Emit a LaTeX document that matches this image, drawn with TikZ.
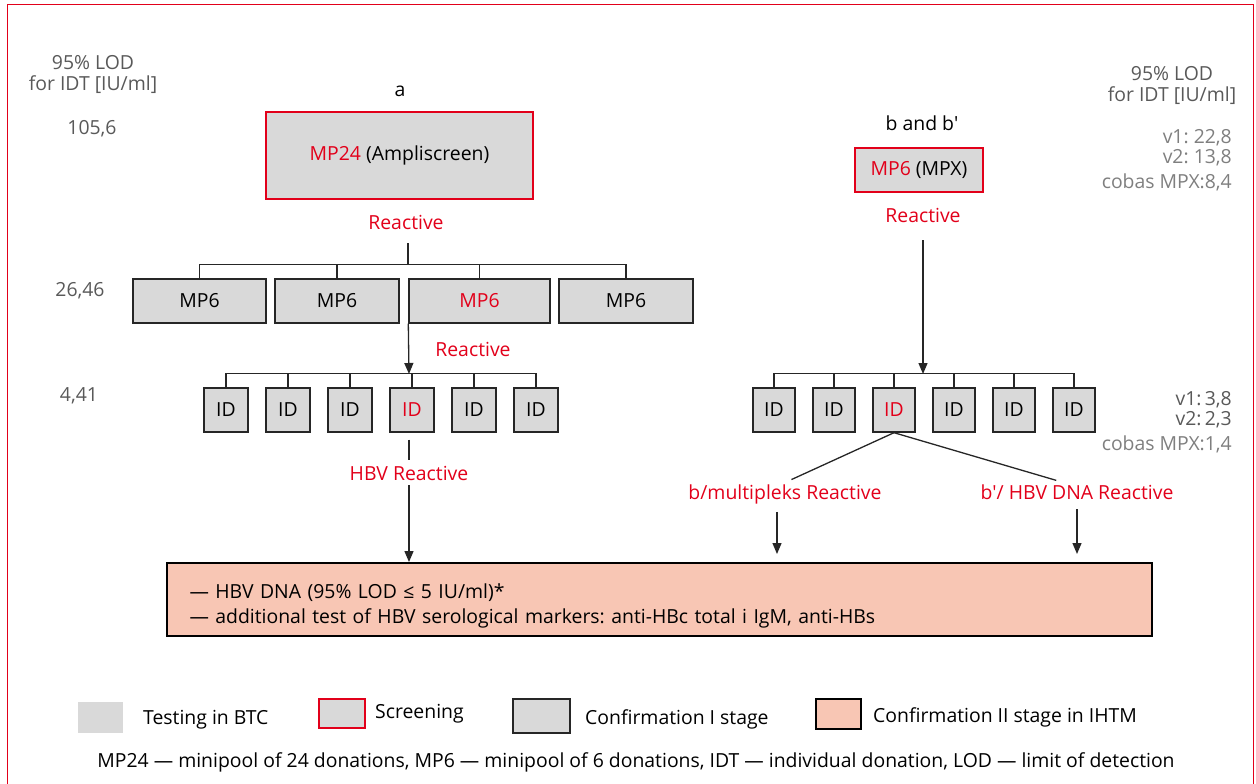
\documentclass[tikz,border=0pt]{standalone}
\usepackage{fontspec}
\setmainfont{Open Sans}
\usepackage{tikz}
\usetikzlibrary{arrows.meta}
\definecolor{signal}{HTML}{E2001A}
\definecolor{boxgrey}{HTML}{D9D9D9}
\definecolor{salmon}{HTML}{F8C6B4}
\definecolor{lodgrey}{HTML}{595959}
\definecolor{lodlight}{HTML}{7F7F7F}
\frenchspacing

\begin{document}
\begin{tikzpicture}[x=1pt, y=-1pt, >={Triangle[length=11pt,width=9pt]},
  font=\fontsize{19.4}{23}\selectfont,
  pool/.style={draw=black!85, line width=1.4pt, fill=boxgrey, inner sep=0pt, minimum height=44pt},
  screen/.style={draw=signal, line width=1.6pt, fill=boxgrey, inner sep=0pt},
  link/.style={line width=1.3pt, black!85},
  txt/.style={anchor=base, inner sep=2pt},
  hit/.style={txt, text=signal},
  lod/.style={txt, text=lodgrey}]
  \useasboundingbox (0,0) rectangle (1256,784);
  \draw[signal, line width=1.5pt] (7.5,790) -- (7.5,4.5) -- (1253.5,4.5) -- (1253.5,790);

  % Detection limits, left column
  \node[lod] (lodA1) at (93,70) {95\% LOD};
  \node[lod] (lodA2) at (93,91) {for IDT [IU/ml]};
  \node[lod] (lodMP24) at (92,134) {105,6};
  \node[lod] (lodMP6) at (80,296) {26,46};
  \node[lod] (lodID) at (79,401) {4,41};

  % Branch a
  \node[txt] (labA) at (400,96) {a};
  \node[screen, minimum width=267pt, minimum height=87pt] (mp24) at (399.5,155.5) {\textcolor{signal}{MP24} (Ampliscreen)};
  \node[hit] (reactA) at (406,229) {Reactive};

  \node[pool, minimum width=133pt] (mp1) at (199.5,301) {MP6};
  \node[pool, minimum width=124pt] (mp2) at (337,301) {MP6};
  \node[pool, minimum width=141pt, text=signal] (mp3) at (479.5,301) {MP6};
  \node[pool, minimum width=134pt] (mp4) at (626,301) {MP6};

  \coordinate (busA) at (408,265);
  \draw[link] (mp1.north) -- ++(0,-14) -| (mp4.north);
  \foreach \k in {2,3} \draw[link] (mp\k.north) -- ++(0,-14);
  \draw[link, shorten <=12pt] (busA |- reactA.south) -- (busA);

  \node[hit] (reactMP) at (473,356) {Reactive};
  \coordinate (busB) at (409,374);
  \draw[link, ->] (mp3.south west) -- (busB);

  \foreach \k/\c in {1/black,2/black,3/black,4/signal,5/black,6/black}
    \node[pool, minimum width=44pt, text=\c] (idA\k) at ({226+62*(\k-1)},410) {ID};
  \draw[link] (idA1.north) -- ++(0,-14) -| (idA6.north);
  \foreach \k in {2,...,5} \draw[link] (idA\k.north) -- ++(0,-14);

  \node[hit] (hbv) at (409,480) {HBV Reactive};
  \draw[link, shorten <=7pt, shorten >=4pt] (hbv.north |- idA4.south) -- (hbv.north);

  % Confirmation II
  \node[draw=black, line width=2pt, fill=salmon, minimum width=985pt, minimum height=73pt,
        inner xsep=23pt, inner ysep=0pt, text width=939pt, align=left,
        font=\fontsize{19.4}{25}\selectfont] (pink) at (659,599.5)
    {\rule{0pt}{27pt}— HBV DNA (95\% LOD ≤ 5 IU/ml)*\\— additional test of HBV serological markers: anti-HBc total i IgM, anti-HBs};
  \draw[link, ->, shorten <=3pt] (hbv.south) -- (hbv.south |- pink.north);

  % Branch b and b'
  \node[txt] (labB) at (922,130) {b and b\textquotesingle};
  \node[screen, minimum width=128pt, minimum height=44pt] (mpx) at (919,170) {\textcolor{signal}{MP6} (MPX)};
  \node[hit] (reactB) at (923,222) {Reactive};
  \coordinate (busC) at (923,374);
  \draw[link, ->, shorten <=16pt] (busC |- reactB.south) -- (busC);

  \foreach \k/\c in {1/black,2/black,3/signal,4/black,5/black,6/black}
    \node[pool, minimum width=42pt, text=\c] (idB\k) at ({774+60*(\k-1)},410) {ID};
  \draw[link] (idB1.north) -- ++(0,-14) -| (idB6.north);
  \foreach \k in {2,...,5} \draw[link] (idB\k.north) -- ++(0,-14);

  \node[hit] (multi) at (785,499) {b/multipleks Reactive};
  \node[hit] (dnaB) at (1077,499) {b\textquotesingle/ HBV DNA Reactive};
  \draw[link, shorten >=6pt] (idB3.south) -- ([xshift=1pt]multi.north);
  \draw[link, shorten >=6pt] (idB3.south) -- ([xshift=-15pt]dnaB.north);
  \draw[link, ->, shorten <=6pt, shorten >=8pt] ([xshift=-8pt]multi.south) -- ([xshift=-8pt]multi.south |- pink.north);
  \draw[link, ->, shorten <=8pt, shorten >=8pt] (dnaB.south) -- (dnaB.south |- pink.north);

  % Detection limits, right column
  \node[lod] (lodB1) at (1172,81) {95\% LOD};
  \node[lod] (lodB2) at (1172,102) {for IDT [IU/ml]};
  \node[lod, anchor=base east, text=lodlight] (lodMPX1) at (1234,143) {v1: 22,8};
  \node[lod, anchor=base east, text=lodlight] (lodMPX2) at (1234,163) {v2: 13,8};
  \node[lod, anchor=base east, text=lodlight] (lodMPX3) at (1234,188) {cobas MPX:8,4};
  \node[lod, anchor=base east] (lodIDB1) at (1234,405) {v1:\,3,8};
  \node[lod, anchor=base east] (lodIDB2) at (1234,425) {v2:\,2,3};
  \node[lod, anchor=base east, text=lodlight] (lodIDB3) at (1234,450) {cobas MPX:1,4};

  % Legend
  \node[fill=boxgrey, minimum width=45pt, minimum height=31pt, inner sep=0pt] (lgBTC) at (100.5,717.5) {};
  \node[txt, anchor=base west] (lgBTCt) at (141,724) {Testing in BTC};
  \node[screen, minimum width=45.5pt, minimum height=29pt] (lgScr) at (342,713.5) {};
  \node[txt, anchor=base west] (lgScrt) at (373,718) {Screening};
  \node[pool, line width=2pt, minimum width=57pt, minimum height=34pt] (lgConf1) at (541.5,716) {};
  \node[txt, anchor=base west] (lgConf1t) at (583,724) {Confirmation I stage};
  \node[draw=black, line width=1.6pt, fill=salmon, minimum width=45pt, minimum height=30pt, inner sep=0pt] (lgConf2) at (838.5,714) {};
  \node[txt, anchor=base west] (lgConf2t) at (871,722) {Confirmation II stage in IHTM};
  \node[txt] (foot) at (636,767) {MP24 — minipool of 24 donations, MP6 — minipool of 6 donations, IDT — individual donation, LOD — limit of detection};
\end{tikzpicture}
\end{document}
